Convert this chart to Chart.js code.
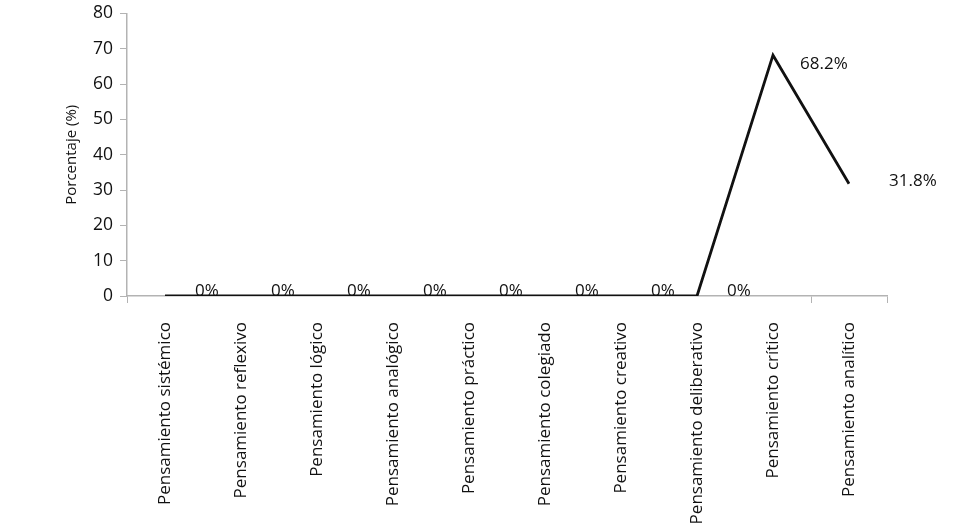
<!DOCTYPE html>
<html>
<head>
<meta charset="utf-8">
<script src="https://cdn.jsdelivr.net/npm/chart.js@4"></script>
<style>
  html, body { margin: 0; padding: 0; background: #fff; overflow: hidden; }
  #wrap { width: 975px; height: 530px; overflow: hidden; }
  #myChart { margin-top: -4px; display: block; }
</style>
</head>
<body>
<div id="wrap"><canvas id="myChart" width="975" height="534"></canvas></div>
<script>
const categorias = [
  "Pensamiento sistémico",
  "Pensamiento reflexivo",
  "Pensamiento lógico",
  "Pensamiento analógico",
  "Pensamiento práctico",
  "Pensamiento colegiado",
  "Pensamiento creativo",
  "Pensamiento deliberativo",
  "Pensamiento crítico",
  "Pensamiento analítico"
];
const porcentajes = [0, 0, 0, 0, 0, 0, 0, 0, 68.2, 31.8];
const etiquetas = ["0%", "0%", "0%", "0%", "0%", "0%", "0%", "0%", "68.2%", "31.8%"];
const yTicks = [0, 10, 20, 30, 40, 50, 60, 70, 80];

const FONT = "'Open Sans', 'Noto Sans', sans-serif";
const AXIS = "#b3b3b3";

// etiquetas de valor a la derecha de cada punto
const valueLabels = {
  id: "valueLabels",
  afterDatasetsDraw(chart) {
    const ctx = chart.ctx;
    const meta = chart.getDatasetMeta(0);
    ctx.save();
    ctx.font = "17px " + FONT;
    ctx.fillStyle = "#111";
    ctx.textAlign = "left";
    ctx.textBaseline = "middle";
    meta.data.forEach((pt, i) => {
      let dx = 30, dy = -5;
      if (porcentajes[i] > 50) { dx = 27; dy = 9; }
      else if (porcentajes[i] > 0) { dx = 40; dy = -3; }
      ctx.fillText(etiquetas[i], pt.x + dx, pt.y + dy);
    });
    ctx.restore();
  }
};

var ctx = document.getElementById("myChart").getContext("2d");
var mychart = new Chart(ctx, {
  type: "line",
  data: {
    labels: categorias,
    datasets: [{
      data: porcentajes,
      borderColor: "#111",
      borderWidth: 2.8,
      borderJoinStyle: "miter",
      pointRadius: 0,
      tension: 0,
      fill: false
    }]
  },
  options: {
    responsive: false,
    animation: false,
    layout: { padding: { left: 63, right: 88, top: 0, bottom: 0 } },
    plugins: {
      legend: { display: false },
      tooltip: { enabled: false }
    },
    scales: {
      x: {
        offset: true,
        afterFit: (scale) => { scale.height = 234; },
        grid: {
          offset: true,
          drawOnChartArea: false,
          tickLength: 7,
          color: (c) => (c.index === undefined || c.index === 0 || c.index >= 9) ? AXIS : "rgba(0,0,0,0)"
        },
        border: { color: AXIS, width: 1.5 },
        ticks: {
          minRotation: 90,
          maxRotation: 90,
          autoSkip: false,
          padding: 19,
          color: "#111",
          font: { family: FONT, size: 17 }
        }
      },
      y: {
        min: 0,
        max: 80,
        afterBuildTicks: (axis) => { axis.ticks = yTicks.map(v => ({ value: v })); },
        grid: {
          drawOnChartArea: false,
          tickLength: 7,
          color: AXIS
        },
        border: { color: AXIS, width: 1.5 },
        ticks: {
          padding: 7,
          color: "#111",
          font: { family: FONT, size: 17.5 }
        },
        title: {
          display: true,
          text: "Porcentaje (%)",
          color: "#111",
          padding: { top: 0, bottom: 5 },
          font: { family: FONT, size: 15 }
        }
      }
    }
  },
  plugins: [valueLabels]
});
</script>
</body>
</html>
